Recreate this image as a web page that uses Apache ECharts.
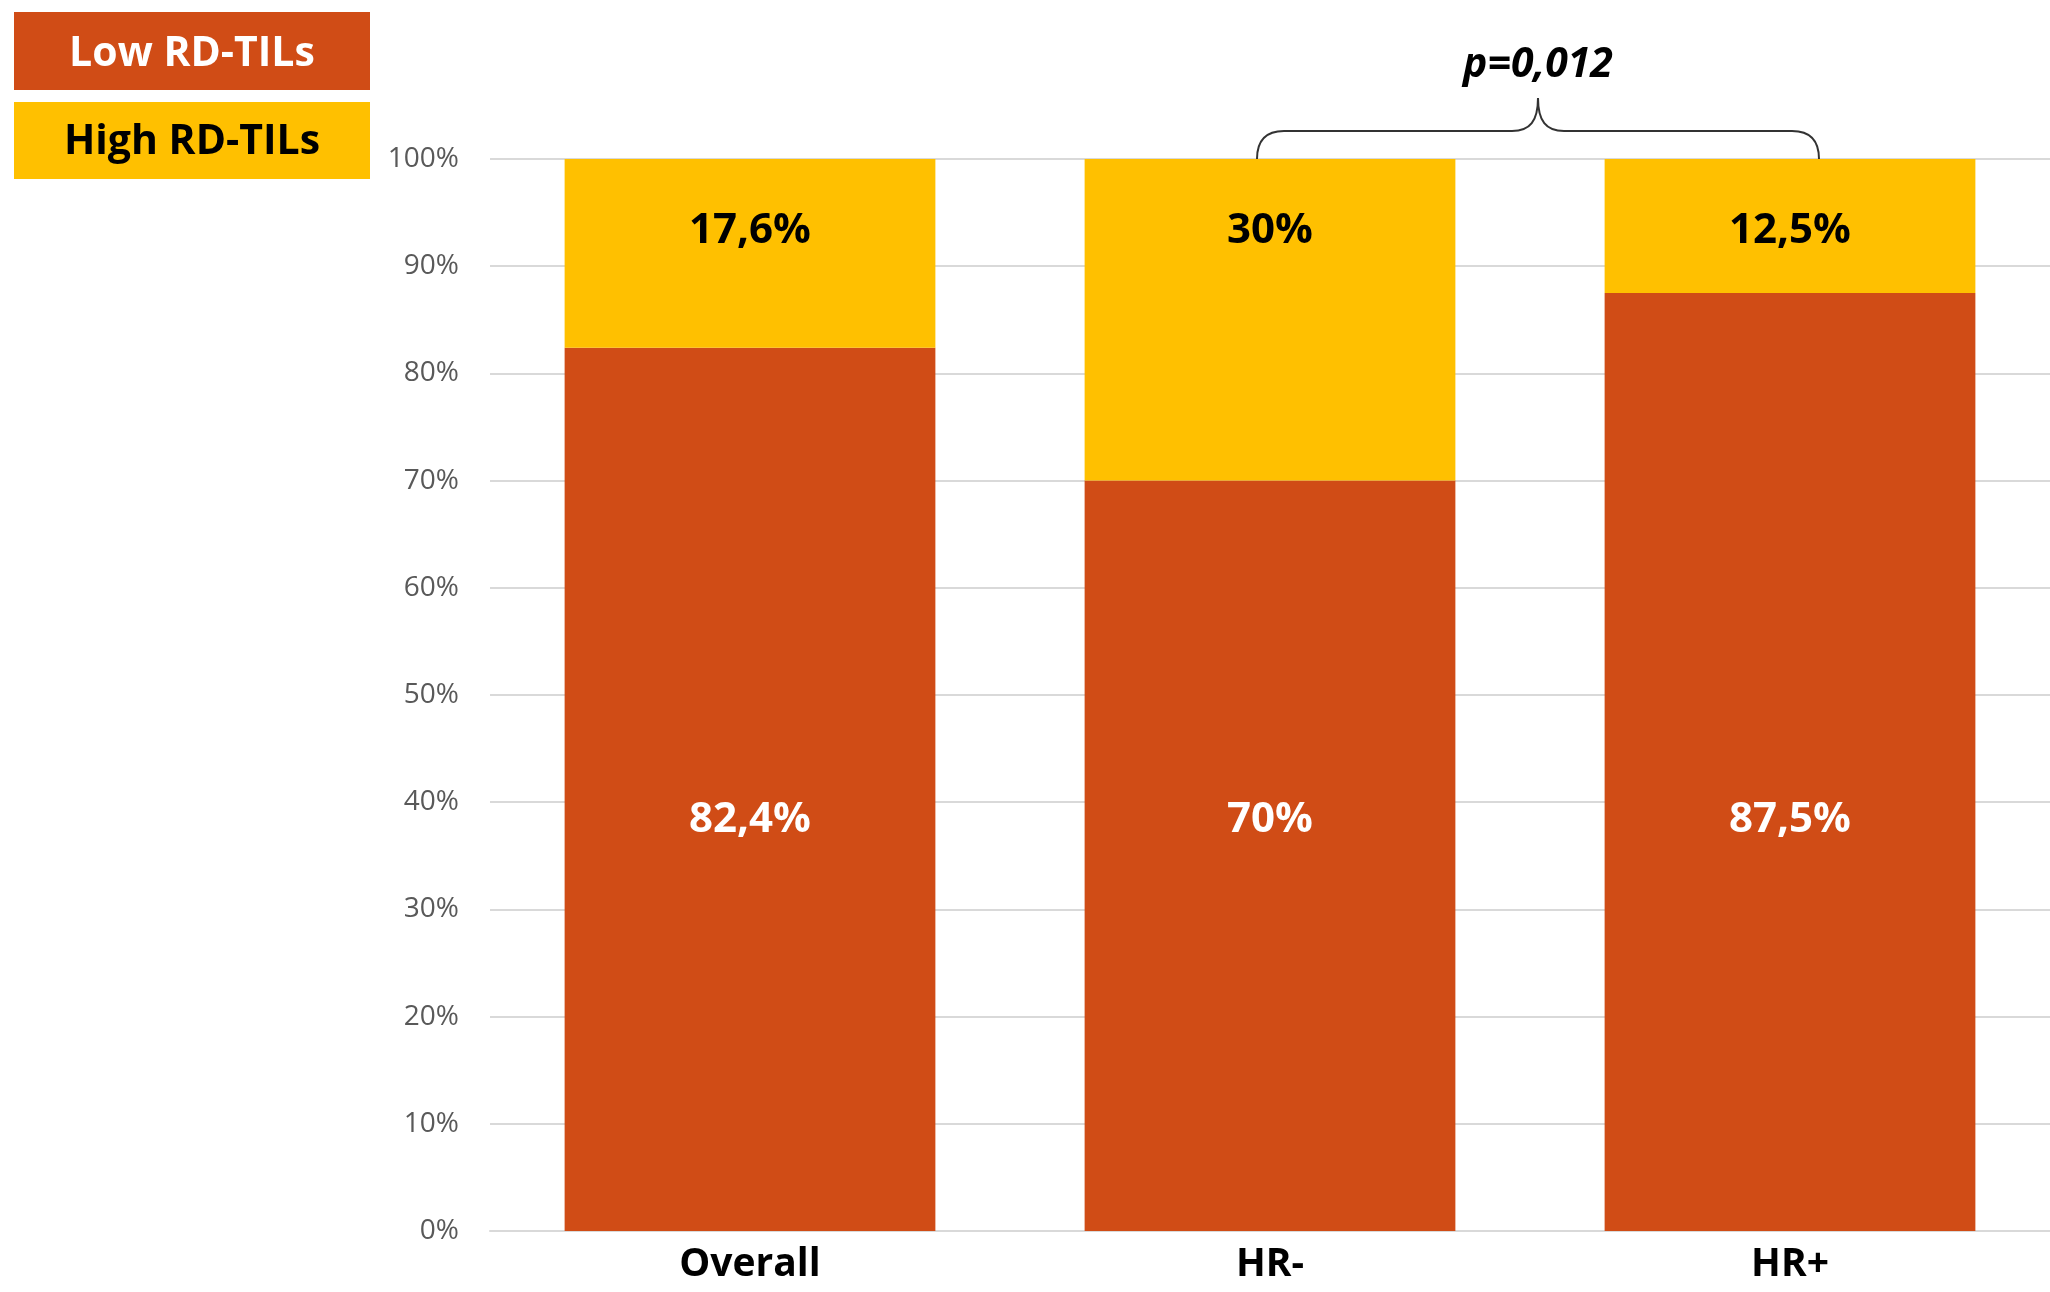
<!DOCTYPE html>
<html>
<head>
<meta charset="utf-8">
<script src="https://cdn.jsdelivr.net/npm/echarts@6/dist/echarts.min.js"></script>
<style>
html,body{margin:0;padding:0;background:#fff;}
#chart{width:2050px;height:1292px;}
</style>
</head>
<body>
<div id="chart"></div>
<script>
const categories = ['Overall', 'HR-', 'HR+'];
const lowValues = [82.4, 70, 87.5];
const highValues = [17.6, 30, 12.5];
const seriesNames = ['Low RD-TILs', 'High RD-TILs'];
const pValueText = 'p=0,012';

const FONT = '"Open Sans", "Noto Sans", sans-serif';
const ORANGE = '#D04C16';
const YELLOW = '#FFC000';
const LOW_LABEL_AT = 38.3; // value level where low labels sit

function fmt(v) { return String(v).replace('.', ',') + '%'; }

const chart = echarts.init(document.getElementById('chart'));

const option = {
  animation: false,
  backgroundColor: '#fff',
  grid: { left: 490, right: 0, top: 159, bottom: 61 },
  xAxis: {
    type: 'category',
    data: categories,
    axisLine: { show: true, lineStyle: { color: '#D9D9D9', width: 2 } },
    axisTick: { show: false },
    axisLabel: { fontFamily: FONT, fontWeight: 'bold', fontSize: 39, color: '#000', margin: 14 }
  },
  yAxis: {
    type: 'value',
    min: 0, max: 100, interval: 10,
    axisLine: { show: false },
    axisTick: { show: false },
    splitLine: { lineStyle: { color: '#D9D9D9', width: 2 } },
    axisLabel: { fontFamily: FONT, fontSize: 28, color: '#595959', margin: 31, formatter: '{value}%' }
  },
  series: [
    {
      name: seriesNames[0], type: 'bar', stack: 'total', barWidth: '71.3%',
      itemStyle: { color: ORANGE },
      data: lowValues.map(v => ({
        value: v,
        label: { position: ['50%', ((v - LOW_LABEL_AT) / v * 100) + '%'] }
      })),
      label: {
        show: true, align: 'center', verticalAlign: 'middle',
        fontFamily: FONT, fontWeight: 'bold', fontSize: 42, color: '#fff',
        formatter: p => fmt(p.value)
      }
    },
    {
      name: seriesNames[1], type: 'bar', stack: 'total', barWidth: '71.3%',
      itemStyle: { color: YELLOW },
      data: highValues,
      label: {
        show: true, position: ['50%', 72], align: 'center', verticalAlign: 'middle',
        fontFamily: FONT, fontWeight: 'bold', fontSize: 42, color: '#000',
        formatter: p => fmt(p.value)
      }
    }
  ]
};
chart.setOption(option);

// annotations: legend boxes, bracket and p-value
const xHRm = chart.convertToPixel({ xAxisIndex: 0 }, 'HR-');
const xHRp = chart.convertToPixel({ xAxisIndex: 0 }, 'HR+');
const y100 = chart.convertToPixel({ yAxisIndex: 0 }, 100);
const x1 = xHRm - 13, x2 = xHRp + 29, mid = (x1 + x2) / 2;
const yH = y100 - 28, yP = y100 - 61;
const LS = { stroke: '#333', lineWidth: 2, fill: null };

chart.setOption({
  graphic: {
    elements: [
      { id: 'lowBox', type: 'rect', x: 14, y: 12, shape: { x: 0, y: 0, width: 356, height: 78 }, style: { fill: ORANGE } },
      { id: 'lowTxt', type: 'text', x: 192, y: 54, style: { text: seriesNames[0], fill: '#fff', font: 'bold 41px ' + FONT, align: 'center', verticalAlign: 'middle' } },
      { id: 'highBox', type: 'rect', x: 14, y: 102, shape: { x: 0, y: 0, width: 356, height: 77 }, style: { fill: YELLOW } },
      { id: 'highTxt', type: 'text', x: 192, y: 142, style: { text: seriesNames[1], fill: '#000', font: 'bold 41px ' + FONT, align: 'center', verticalAlign: 'middle' } },
      { id: 'b1', type: 'bezierCurve', shape: { x1: x1, y1: y100, cpx1: x1, cpy1: y100 - 18, cpx2: x1 + 9, cpy2: yH, x2: x1 + 27, y2: yH }, style: LS },
      { id: 'b2', type: 'line', shape: { x1: x1 + 27, y1: yH, x2: mid - 26, y2: yH }, style: LS },
      { id: 'b3', type: 'bezierCurve', shape: { x1: mid - 26, y1: yH, cpx1: mid - 8, cpy1: yH, cpx2: mid, cpy2: yH - 10, x2: mid, y2: yP }, style: LS },
      { id: 'b4', type: 'bezierCurve', shape: { x1: mid, y1: yP, cpx1: mid, cpy1: yH - 10, cpx2: mid + 8, cpy2: yH, x2: mid + 26, y2: yH }, style: LS },
      { id: 'b5', type: 'line', shape: { x1: mid + 26, y1: yH, x2: x2 - 27, y2: yH }, style: LS },
      { id: 'b6', type: 'bezierCurve', shape: { x1: x2 - 27, y1: yH, cpx1: x2 - 9, cpy1: yH, cpx2: x2, cpy2: y100 - 18, x2: x2, y2: y100 }, style: LS },
      { id: 'pTxt', type: 'text', x: mid, y: 65, style: { text: pValueText, fill: '#000', font: 'italic bold 41px ' + FONT, align: 'center', verticalAlign: 'middle' } }
    ]
  }
});
</script>
</body>
</html>
